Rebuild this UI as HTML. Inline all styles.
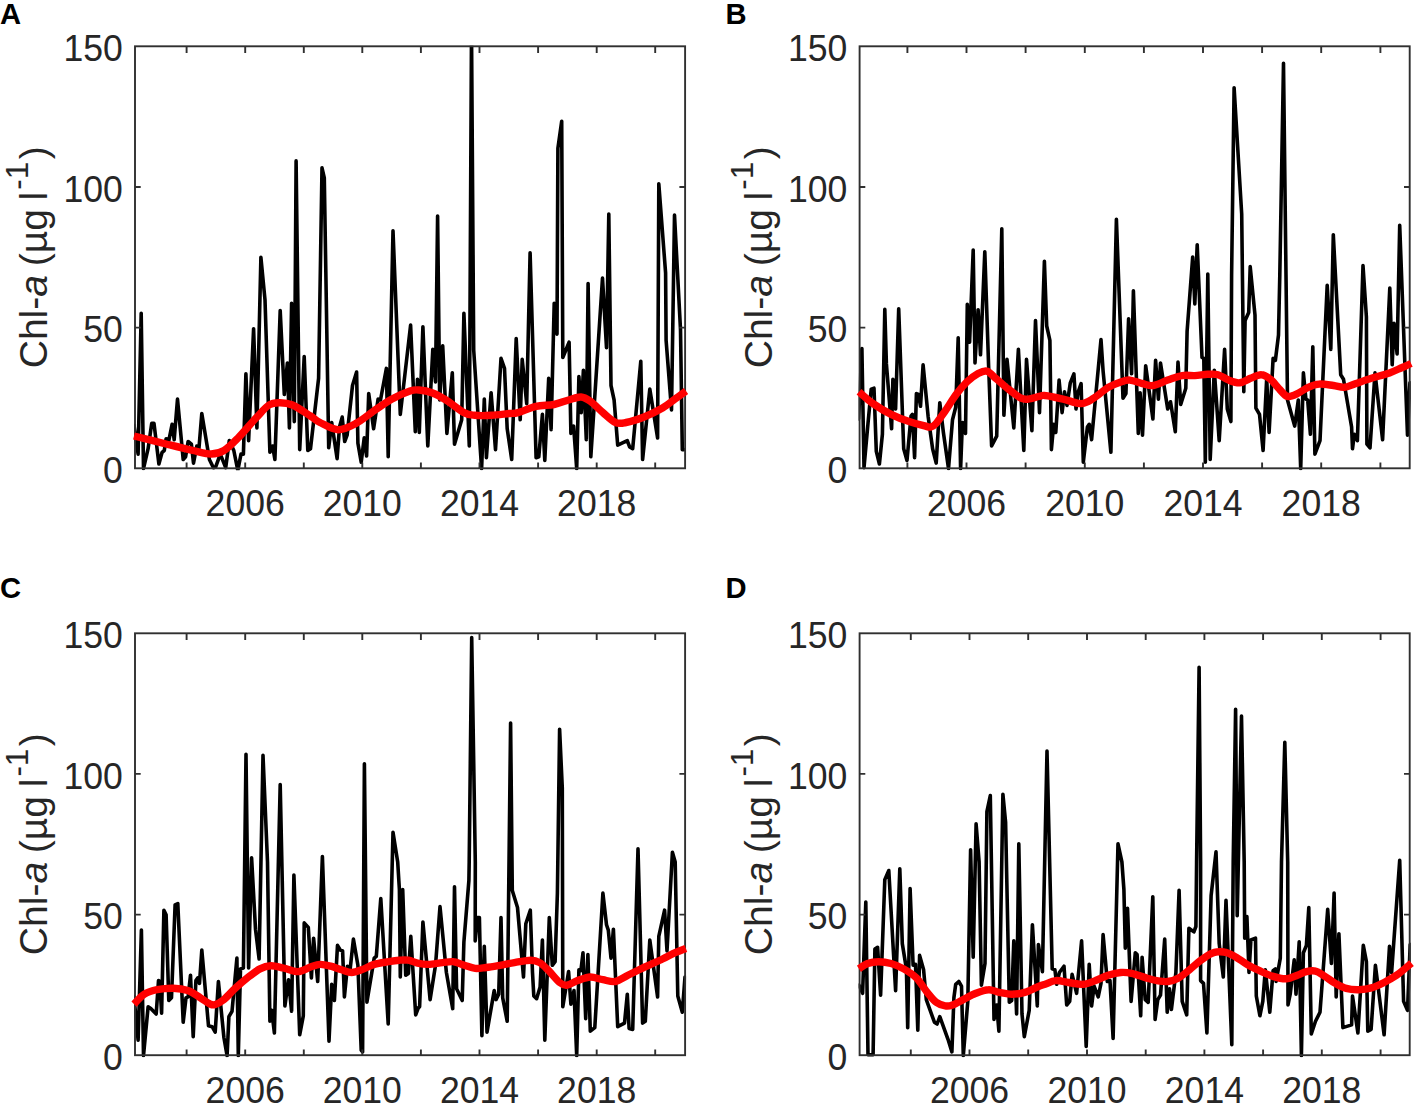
<!DOCTYPE html>
<html><head><meta charset="utf-8"><title>Chl-a time series</title>
<style>
html,body{margin:0;padding:0;background:#fff;}
body{width:1418px;height:1108px;overflow:hidden;font-family:"Liberation Sans",sans-serif;}
svg{display:block;}
text{font-family:"Liberation Sans",sans-serif;}
.tk{font-size:35.6px;fill:#262626;}
.yl{font-size:39.2px;fill:#262626;}
.pl{font-size:29.2px;font-weight:bold;fill:#000;}
</style></head><body>
<svg width="1418" height="1108" viewBox="0 0 1418 1108">
<rect x="0" y="0" width="1418" height="1108" fill="#ffffff"/>

<g id="panelA">
<clipPath id="clipA"><rect x="134.0" y="45.8" width="552.1" height="424.5"/></clipPath>
<g clip-path="url(#clipA)">
<polyline points="134.0,425.2 138.1,454.1 141.2,313.3 143.5,468.6 148.1,448.7 151.7,423.4 154.0,423.4 158.9,464.0 162.1,452.3 164.3,450.5 166.1,438.8 168.8,440.6 172.1,424.3 174.2,439.7 177.5,399.1 183.2,459.5 185.6,456.8 188.1,441.5 191.4,444.2 193.5,463.1 196.8,446.0 199.0,447.8 201.8,413.5 209.4,459.5 213.4,467.7 215.7,466.8 220.3,454.1 225.7,467.7 229.3,440.6 233.8,450.5 237.8,470.4 241.0,454.1 243.4,454.1 245.9,373.8 248.6,440.6 253.6,328.7 256.9,427.9 260.9,257.4 265.0,299.8 269.9,452.3 272.6,446.0 274.9,459.5 280.2,310.6 284.3,394.5 287.4,363.0 289.4,427.9 291.6,303.4 294.3,421.6 296.1,160.9 299.7,449.6 304.2,356.6 307.8,450.5 310.5,448.7 318.6,378.3 322.0,167.9 324.3,178.0 328.7,447.8 331.7,422.5 337.1,458.6 339.5,427.0 342.2,417.1 344.7,441.5 347.1,435.2 352.5,385.5 356.6,372.0 357.9,443.3 361.2,462.2 364.2,437.9 366.6,455.9 368.7,393.6 373.6,428.8 378.1,399.1 380.5,400.0 386.4,368.4 388.2,456.8 393.0,230.9 400.3,414.4 410.6,325.1 415.3,431.6 417.5,379.2 419.3,432.5 422.9,326.9 427.8,446.0 432.8,349.4 435.5,381.9 437.6,216.1 439.7,400.0 442.7,345.8 446.9,433.4 452.3,372.9 454.5,444.2 461.7,419.8 463.9,313.3 469.3,446.0 471.5,30.0 473.7,350.0 481.6,468.6 484.3,399.1 486.4,457.7 491.1,392.7 495.5,449.6 501.0,358.4 504.5,368.4 507.2,428.8 511.7,459.5 516.2,338.6 520.2,419.8 522.2,359.4 526.7,403.6 530.1,252.8 536.1,457.7 538.8,456.8 542.4,414.4 544.8,460.4 548.7,378.3 551.1,429.7 554.2,303.4 557.0,334.1 557.9,148.2 561.7,121.2 562.8,357.5 569.1,342.2 570.9,433.4 573.6,426.1 576.7,468.6 578.9,376.5 581.2,412.6 583.4,370.2 586.3,439.7 588.1,283.5 590.8,456.8 594.8,396.4 602.5,278.1 606.5,347.6 608.8,214.0 611.0,385.5 614.1,400.0 617.7,445.1 627.3,440.6 629.6,446.9 632.7,448.7 640.8,361.2 642.6,459.5 649.8,389.1 657.6,437.9 658.8,183.8 665.6,273.0 666.1,340.4 671.5,409.9 674.5,215.0 680.5,329.6 682.3,449.6 684.1,449.6" fill="none" stroke="#000" stroke-width="3.6" stroke-linejoin="round" stroke-linecap="round"/>
</g>
<rect x="135.0" y="46.3" width="550.1" height="422.0" fill="none" stroke="#303030" stroke-width="1.9"/>
<path d="M186.6 468.3v-5.7M186.6 46.3v6.7M245.2 468.3v-5.7M245.2 46.3v6.7M303.8 468.3v-5.7M303.8 46.3v6.7M362.3 468.3v-5.7M362.3 46.3v6.7M420.9 468.3v-5.7M420.9 46.3v6.7M479.5 468.3v-5.7M479.5 46.3v6.7M538.1 468.3v-5.7M538.1 46.3v6.7M596.7 468.3v-5.7M596.7 46.3v6.7M655.2 468.3v-5.7M655.2 46.3v6.7M135.0 327.6h5.7M685.1 327.6h-5.7M135.0 187.0h5.7M685.1 187.0h-5.7" stroke="#303030" stroke-width="1.9" fill="none"/>
<path d="M134.0 436.0C139.3 437.3 156.2 441.6 166.0 444.0C175.8 446.4 185.5 448.8 193.0 450.5C200.5 452.2 205.8 454.0 211.0 454.0C216.2 454.0 219.5 453.2 224.0 450.5C228.5 447.8 232.7 443.4 238.0 438.0C243.3 432.6 250.8 423.5 256.0 418.0C261.2 412.5 265.0 407.6 269.0 405.0C273.0 402.4 276.1 402.7 280.0 402.7C283.9 402.7 287.4 402.8 292.5 405.0C297.6 407.2 305.9 413.1 310.5 416.0C315.1 418.9 315.4 420.2 320.0 422.5C324.6 424.8 332.0 429.6 338.0 429.7C344.0 429.8 350.0 426.5 356.0 423.4C362.0 420.2 368.0 414.9 374.0 410.8C380.0 406.7 386.0 402.3 392.0 399.0C398.0 395.7 405.5 392.5 410.0 391.0C414.5 389.5 415.3 389.7 419.0 390.0C422.7 390.3 427.5 391.0 432.0 392.7C436.5 394.4 440.7 396.7 446.0 400.0C451.3 403.3 459.2 410.1 464.0 412.6C468.8 415.2 470.4 414.9 475.0 415.3C479.6 415.8 485.8 415.6 491.5 415.3C497.2 415.0 505.1 413.9 509.5 413.5C513.9 413.1 513.6 413.8 518.0 412.6C522.4 411.4 530.0 407.7 536.0 406.3C542.0 404.9 548.6 405.6 554.0 404.5C559.4 403.4 564.1 401.2 568.6 400.0C573.1 398.8 577.4 396.8 581.0 397.0C584.6 397.2 586.3 398.4 590.0 401.0C593.7 403.6 598.8 409.0 603.0 412.6C607.2 416.2 611.7 420.9 615.5 422.5C619.3 424.1 621.2 423.4 626.0 422.5C630.8 421.6 637.9 419.4 644.0 417.0C650.1 414.6 657.3 411.0 662.5 408.0C667.7 405.0 671.1 401.8 675.0 399.0C678.9 396.2 684.2 392.3 686.0 391.0" fill="none" stroke="#ff0000" stroke-width="7.4" stroke-linejoin="round" stroke-linecap="butt"/>
<text class="tk" transform="translate(122.8 483.1) scale(1 1.045)" text-anchor="end">0</text>
<text class="tk" transform="translate(122.8 342.4) scale(1 1.045)" text-anchor="end">50</text>
<text class="tk" transform="translate(122.8 201.8) scale(1 1.045)" text-anchor="end">100</text>
<text class="tk" transform="translate(122.8 61.1) scale(1 1.045)" text-anchor="end">150</text>
<text class="tk" transform="translate(245.2 515.9) scale(1 1.045)" text-anchor="middle">2006</text>
<text class="tk" transform="translate(362.3 515.9) scale(1 1.045)" text-anchor="middle">2010</text>
<text class="tk" transform="translate(479.5 515.9) scale(1 1.045)" text-anchor="middle">2014</text>
<text class="tk" transform="translate(596.7 515.9) scale(1 1.045)" text-anchor="middle">2018</text>
<text class="yl" transform="translate(47.3 257.3) scale(1 0.997) rotate(-90)" text-anchor="middle" word-spacing="-2.2">Chl-<tspan font-style="italic">a</tspan> (µg l<tspan font-size="31.4px" dx="2" dy="-19">-1</tspan><tspan dx="2.6" dy="19">)</tspan></text>
<text class="pl" x="0.0" y="24.2">A</text>
</g>
<g id="panelB">
<clipPath id="clipB"><rect x="858.6" y="45.8" width="552.1" height="424.5"/></clipPath>
<g clip-path="url(#clipB)">
<polyline points="858.6,418.9 861.9,348.5 864.0,467.7 868.0,423.4 871.2,389.1 874.0,388.2 876.3,451.4 879.4,464.0 882.4,434.3 884.8,309.4 886.4,363.9 891.6,428.8 892.9,379.2 895.6,409.0 898.7,308.8 903.7,448.7 907.0,460.4 911.0,416.2 912.4,414.4 914.6,457.7 916.4,393.6 918.5,394.5 920.5,406.3 923.1,364.8 928.1,416.2 932.6,448.7 936.2,463.1 939.8,402.7 943.4,432.5 948.5,468.6 952.5,419.8 955.7,407.2 958.2,337.7 960.6,468.6 962.4,422.5 965.5,433.4 967.3,304.3 969.6,342.2 973.2,250.0 975.0,363.0 978.1,309.7 980.5,354.8 984.8,251.7 988.6,365.7 991.6,446.0 996.7,436.1 1001.8,228.8 1003.9,415.3 1007.0,359.4 1013.8,427.9 1018.4,349.4 1023.8,450.5 1026.5,359.4 1031.9,430.6 1035.5,320.5 1039.5,412.6 1044.4,261.3 1046.7,326.0 1049.9,340.4 1051.4,449.6 1053.7,424.3 1055.8,432.5 1059.1,380.1 1062.1,412.6 1064.5,391.8 1067.0,405.4 1070.3,382.8 1073.9,373.8 1076.0,409.0 1078.0,392.7 1081.1,383.7 1083.3,462.2 1087.4,427.0 1089.2,424.3 1091.6,439.7 1101.0,339.5 1103.1,371.1 1110.9,452.3 1116.4,219.3 1123.0,398.2 1125.9,393.6 1128.6,318.7 1131.6,373.8 1133.4,290.8 1138.3,433.4 1140.1,392.7 1142.5,435.2 1145.7,365.7 1152.9,418.9 1155.6,360.3 1158.4,399.1 1160.5,363.0 1167.7,409.0 1170.5,401.8 1175.3,431.6 1178.0,362.1 1180.7,404.5 1185.8,388.2 1187.1,331.4 1192.7,257.0 1194.8,304.0 1197.2,244.7 1202.0,357.5 1203.8,358.4 1205.3,462.2 1207.8,274.0 1210.2,459.5 1214.3,370.2 1219.2,440.6 1224.6,349.4 1227.3,409.0 1230.9,421.6 1231.6,275.0 1234.1,87.7 1241.7,214.0 1243.8,391.8 1245.1,320.5 1248.7,312.4 1250.2,266.6 1255.0,315.1 1255.9,408.1 1259.5,414.4 1263.1,450.5 1266.7,378.3 1269.1,432.5 1273.1,358.4 1275.4,360.3 1278.5,335.0 1279.8,275.0 1283.5,63.3 1286.0,275.0 1287.5,400.0 1294.7,426.1 1298.3,400.0 1300.7,468.6 1303.4,372.9 1305.9,399.1 1307.7,400.0 1310.4,434.3 1312.8,346.7 1314.9,454.1 1320.0,440.6 1327.2,285.3 1330.8,349.4 1333.3,234.7 1340.7,374.7 1343.5,379.2 1351.6,427.0 1352.5,448.7 1354.3,434.3 1357.4,440.6 1363.0,265.5 1366.4,316.9 1366.9,444.2 1370.0,447.8 1375.0,372.9 1382.6,439.7 1389.8,288.1 1392.2,364.8 1394.0,323.2 1397.1,353.9 1399.7,225.2 1407.5,435.2 1409.9,382.8" fill="none" stroke="#000" stroke-width="3.6" stroke-linejoin="round" stroke-linecap="round"/>
</g>
<rect x="859.6" y="46.3" width="550.1" height="422.0" fill="none" stroke="#303030" stroke-width="1.9"/>
<path d="M907.4 468.3v-5.7M907.4 46.3v6.7M966.5 468.3v-5.7M966.5 46.3v6.7M1025.6 468.3v-5.7M1025.6 46.3v6.7M1084.8 468.3v-5.7M1084.8 46.3v6.7M1143.9 468.3v-5.7M1143.9 46.3v6.7M1203.0 468.3v-5.7M1203.0 46.3v6.7M1262.1 468.3v-5.7M1262.1 46.3v6.7M1321.2 468.3v-5.7M1321.2 46.3v6.7M1380.4 468.3v-5.7M1380.4 46.3v6.7M859.6 327.6h5.7M1409.7 327.6h-5.7M859.6 187.0h5.7M1409.7 187.0h-5.7" stroke="#303030" stroke-width="1.9" fill="none"/>
<path d="M859.0 391.8C861.3 393.8 867.7 399.8 873.1 403.6C878.4 407.3 885.1 411.4 891.1 414.4C897.1 417.4 903.7 419.8 909.2 421.6C914.6 423.5 920.0 424.7 923.6 425.6C927.2 426.5 928.7 427.4 930.8 427.0C932.9 426.7 933.8 426.1 936.2 423.4C938.6 420.7 941.9 415.6 945.3 410.8C948.6 406.0 952.5 399.4 956.1 394.5C959.7 389.7 963.3 385.4 966.9 381.9C970.5 378.5 974.4 375.6 977.7 373.8C981.1 372.0 983.8 370.3 986.8 371.1C989.8 371.8 992.2 375.3 995.8 378.3C999.4 381.3 1004.2 385.8 1008.4 389.1C1012.6 392.4 1017.8 396.5 1021.1 398.2C1024.4 399.8 1025.3 399.4 1028.3 399.1C1031.3 398.8 1036.3 397.0 1039.1 396.4C1041.9 395.8 1041.0 395.0 1045.0 395.5C1049.0 395.9 1057.0 397.7 1063.1 399.1C1069.1 400.4 1076.0 403.7 1081.1 403.6C1086.2 403.4 1089.2 400.9 1093.7 398.2C1098.2 395.5 1103.7 390.0 1108.2 387.3C1112.7 384.6 1117.2 383.1 1120.8 381.9C1124.4 380.7 1126.2 379.8 1129.8 380.1C1133.4 380.4 1138.6 382.8 1142.5 383.7C1146.4 384.6 1149.1 386.1 1153.3 385.5C1157.5 384.9 1162.9 381.8 1167.7 380.1C1172.6 378.5 1177.7 376.3 1182.2 375.6C1186.7 374.8 1190.6 375.8 1194.8 375.6C1199.0 375.4 1203.6 374.5 1207.5 374.3C1211.3 374.2 1214.4 373.7 1218.0 374.7C1221.6 375.7 1225.2 378.8 1228.8 380.1C1232.4 381.5 1236.1 383.1 1239.7 382.8C1243.3 382.5 1246.9 379.7 1250.5 378.3C1254.1 376.9 1258.0 374.5 1261.3 374.7C1264.6 374.8 1267.3 376.8 1270.3 379.2C1273.4 381.6 1276.5 386.3 1279.4 389.1C1282.2 392.0 1284.5 395.6 1287.5 396.4C1290.5 397.1 1294.0 395.2 1297.4 393.6C1300.9 392.1 1304.6 388.9 1308.3 387.3C1311.9 385.7 1314.9 384.4 1319.1 384.1C1323.3 383.8 1329.3 385.0 1333.5 385.5C1337.7 386.1 1340.7 387.6 1344.4 387.3C1348.0 387.0 1350.7 385.2 1355.2 383.7C1359.7 382.2 1365.7 380.1 1371.4 378.3C1377.1 376.5 1384.4 374.7 1389.5 372.9C1394.6 371.1 1398.5 369.0 1402.1 367.5C1405.7 365.9 1409.6 364.2 1411.1 363.5" fill="none" stroke="#ff0000" stroke-width="7.4" stroke-linejoin="round" stroke-linecap="butt"/>
<text class="tk" transform="translate(847.4 483.1) scale(1 1.045)" text-anchor="end">0</text>
<text class="tk" transform="translate(847.4 342.4) scale(1 1.045)" text-anchor="end">50</text>
<text class="tk" transform="translate(847.4 201.8) scale(1 1.045)" text-anchor="end">100</text>
<text class="tk" transform="translate(847.4 61.1) scale(1 1.045)" text-anchor="end">150</text>
<text class="tk" transform="translate(966.5 515.9) scale(1 1.045)" text-anchor="middle">2006</text>
<text class="tk" transform="translate(1084.8 515.9) scale(1 1.045)" text-anchor="middle">2010</text>
<text class="tk" transform="translate(1203.0 515.9) scale(1 1.045)" text-anchor="middle">2014</text>
<text class="tk" transform="translate(1321.2 515.9) scale(1 1.045)" text-anchor="middle">2018</text>
<text class="yl" transform="translate(771.9 257.3) scale(1 0.997) rotate(-90)" text-anchor="middle" word-spacing="-2.2">Chl-<tspan font-style="italic">a</tspan> (µg l<tspan font-size="31.4px" dx="2" dy="-19">-1</tspan><tspan dx="2.6" dy="19">)</tspan></text>
<text class="pl" x="725.4" y="24.2">B</text>
</g>
<g id="panelC">
<clipPath id="clipC"><rect x="134.0" y="632.8" width="552.1" height="424.4"/></clipPath>
<g clip-path="url(#clipC)">
<polyline points="134.0,996.9 138.1,1040.2 141.4,930.1 143.5,1055.6 148.1,1006.8 150.8,1008.6 156.2,1014.0 158.5,980.6 159.8,981.5 161.6,1013.1 163.9,910.2 166.1,914.8 168.8,1000.5 171.5,997.8 175.1,904.8 177.8,903.6 183.2,1022.2 186.0,997.8 188.1,996.9 190.5,975.2 193.2,1036.6 195.9,980.6 197.7,977.9 199.5,983.4 201.8,950.0 208.5,1025.8 212.1,1026.7 215.2,1032.1 218.4,981.5 223.9,1037.5 227.1,1055.6 228.9,1016.7 232.0,1011.3 236.9,958.1 238.3,1055.6 240.5,968.9 243.4,968.0 246.0,754.3 248.6,968.0 251.6,857.8 255.5,929.2 259.1,959.0 263.0,755.3 267.5,862.0 269.9,1021.3 271.7,1010.4 274.4,1033.0 280.2,784.6 284.9,1005.9 288.5,979.7 291.6,1011.3 293.9,875.1 299.7,1034.8 303.3,1015.8 304.2,922.9 308.3,927.4 311.4,977.9 313.6,938.2 317.7,981.5 322.4,856.5 329.0,1041.1 331.7,984.3 334.4,1000.5 337.5,945.4 340.2,950.0 342.6,950.9 344.4,996.9 347.4,966.2 349.8,972.5 353.4,939.1 357.9,965.3 361.2,1050.1 362.6,1051.9 364.4,763.8 366.9,1002.3 374.2,958.1 376.3,956.3 380.8,898.5 388.2,1024.0 393.0,832.3 397.7,862.0 399.4,889.5 400.3,977.0 402.7,889.5 405.7,975.2 408.4,973.4 410.8,936.4 415.7,1014.9 418.4,1007.7 419.6,1006.8 422.9,922.0 430.1,999.6 435.5,965.3 440.0,906.6 446.4,972.5 452.7,1008.6 454.5,886.8 456.6,988.8 462.2,1000.5 463.9,941.8 468.9,880.5 469.2,862.0 471.7,637.6 475.3,862.0 475.2,940.9 477.4,917.5 479.4,917.5 481.9,1035.7 484.3,946.4 487.0,1032.1 494.2,990.6 496.0,999.6 498.7,994.2 501.0,917.5 502.7,997.8 507.2,1021.3 510.6,723.1 512.3,890.4 517.5,907.5 523.5,977.0 525.8,923.8 530.3,910.2 532.5,972.5 533.8,996.0 536.6,998.7 540.1,987.0 542.4,940.0 544.8,1040.2 549.3,917.5 552.3,965.3 555.1,961.7 557.4,893.1 559.6,729.2 562.3,788.2 562.8,1006.8 568.6,971.6 570.9,1004.1 574.0,990.6 576.7,1055.6 578.9,969.8 580.9,970.7 583.0,952.7 585.7,1018.6 587.9,954.5 590.3,1031.2 594.8,1027.6 602.9,893.1 606.5,924.7 608.3,930.1 611.0,958.1 613.4,929.2 617.7,1026.7 624.5,1023.1 627.3,994.2 629.1,1028.5 632.7,1029.4 638.0,848.7 642.6,1023.1 645.3,1021.3 649.8,940.0 657.6,996.9 658.8,936.4 664.6,910.2 667.0,950.9 672.4,852.3 675.2,862.0 677.8,996.0 682.3,1012.2 685.0,977.0" fill="none" stroke="#000" stroke-width="3.6" stroke-linejoin="round" stroke-linecap="round"/>
</g>
<rect x="135.0" y="633.3" width="550.1" height="421.9" fill="none" stroke="#303030" stroke-width="1.9"/>
<path d="M186.6 1055.2v-5.7M186.6 633.3v6.7M245.2 1055.2v-5.7M245.2 633.3v6.7M303.8 1055.2v-5.7M303.8 633.3v6.7M362.3 1055.2v-5.7M362.3 633.3v6.7M420.9 1055.2v-5.7M420.9 633.3v6.7M479.5 1055.2v-5.7M479.5 633.3v6.7M538.1 1055.2v-5.7M538.1 633.3v6.7M596.7 1055.2v-5.7M596.7 633.3v6.7M655.2 1055.2v-5.7M655.2 633.3v6.7M135.0 914.6h5.7M685.1 914.6h-5.7M135.0 773.9h5.7M685.1 773.9h-5.7" stroke="#303030" stroke-width="1.9" fill="none"/>
<path d="M134.0 1004.1C135.7 1002.5 140.6 996.6 144.4 994.2C148.3 991.8 152.3 990.7 157.1 989.7C161.9 988.7 168.2 988.1 173.3 988.2C178.4 988.4 183.2 989.0 187.8 990.6C192.3 992.2 196.8 995.6 200.4 997.8C204.0 1000.0 207.0 1002.4 209.4 1003.6C211.8 1004.7 212.4 1005.3 214.8 1004.7C217.2 1004.0 220.6 1002.2 223.9 999.6C227.2 997.0 230.8 992.4 234.7 988.8C238.6 985.2 243.1 981.2 247.3 977.9C251.5 974.6 256.1 970.9 260.0 968.9C263.9 966.9 266.9 966.0 270.8 965.8C274.7 965.7 278.9 967.0 283.4 968.0C287.9 969.0 293.4 971.8 297.9 971.6C302.4 971.5 306.8 968.3 310.5 967.1C314.2 965.9 316.6 964.6 320.0 964.4C323.4 964.3 327.2 965.3 330.8 966.2C334.4 967.1 338.2 968.8 341.7 969.8C345.1 970.9 348.3 972.5 351.6 972.5C354.9 972.5 357.8 971.2 361.5 969.8C365.3 968.5 369.6 965.8 374.2 964.4C378.7 963.0 384.4 962.4 388.6 961.7C392.8 961.0 396.1 960.5 399.4 960.2C402.7 960.0 405.4 959.8 408.4 960.2C411.5 960.7 414.2 962.4 417.5 963.1C420.8 963.8 424.1 964.5 428.3 964.4C432.5 964.3 438.5 963.0 442.7 962.6C447.0 962.1 450.0 961.2 453.6 961.7C457.2 962.1 460.8 964.2 464.4 965.3C468.0 966.4 471.6 968.0 475.2 968.4C478.8 968.7 481.9 968.0 486.1 967.5C490.2 967.0 495.3 966.1 500.0 965.3C504.7 964.5 509.3 963.4 514.4 962.6C519.6 961.8 526.5 960.2 530.7 960.2C534.9 960.2 536.7 960.9 539.7 962.6C542.7 964.3 545.4 967.4 548.7 970.7C552.0 974.0 556.6 980.0 559.6 982.5C562.6 984.9 563.8 985.5 566.8 985.2C569.8 984.9 573.7 982.0 577.6 980.6C581.5 979.3 586.0 977.2 590.3 977.0C594.5 976.9 598.7 979.0 602.9 979.7C607.1 980.5 611.6 982.2 615.5 981.5C619.4 980.9 621.5 978.5 626.4 976.1C631.2 973.7 638.4 970.0 644.4 967.1C650.4 964.3 657.3 961.4 662.5 959.0C667.6 956.6 671.2 954.4 675.1 952.7C679.0 950.9 684.1 949.2 685.9 948.5" fill="none" stroke="#ff0000" stroke-width="7.4" stroke-linejoin="round" stroke-linecap="butt"/>
<text class="tk" transform="translate(122.8 1070.0) scale(1 1.045)" text-anchor="end">0</text>
<text class="tk" transform="translate(122.8 929.4) scale(1 1.045)" text-anchor="end">50</text>
<text class="tk" transform="translate(122.8 788.7) scale(1 1.045)" text-anchor="end">100</text>
<text class="tk" transform="translate(122.8 648.1) scale(1 1.045)" text-anchor="end">150</text>
<text class="tk" transform="translate(245.2 1102.8) scale(1 1.045)" text-anchor="middle">2006</text>
<text class="tk" transform="translate(362.3 1102.8) scale(1 1.045)" text-anchor="middle">2010</text>
<text class="tk" transform="translate(479.5 1102.8) scale(1 1.045)" text-anchor="middle">2014</text>
<text class="tk" transform="translate(596.7 1102.8) scale(1 1.045)" text-anchor="middle">2018</text>
<text class="yl" transform="translate(47.3 844.2) scale(1 0.997) rotate(-90)" text-anchor="middle" word-spacing="-2.2">Chl-<tspan font-style="italic">a</tspan> (µg l<tspan font-size="31.4px" dx="2" dy="-19">-1</tspan><tspan dx="2.6" dy="19">)</tspan></text>
<text class="pl" x="0.0" y="597.9">C</text>
</g>
<g id="panelD">
<clipPath id="clipD"><rect x="858.6" y="632.8" width="552.1" height="424.4"/></clipPath>
<g clip-path="url(#clipD)">
<polyline points="859.0,985.2 862.6,993.3 865.8,902.1 868.0,1054.7 873.1,1054.7 874.9,949.1 877.6,947.3 880.6,995.1 884.8,879.6 888.8,870.5 895.6,990.6 899.8,868.7 902.3,943.6 906.4,968.9 907.7,1027.6 910.1,888.6 913.1,965.3 915.5,964.4 917.8,1030.3 919.6,955.4 923.6,969.8 926.3,999.6 934.4,1022.2 937.1,1024.0 939.8,1016.7 948.0,1039.3 951.9,1051.9 953.9,997.8 955.7,984.3 958.8,981.5 961.5,986.1 963.3,1055.6 967.8,1001.4 970.6,849.7 973.2,957.2 976.1,823.9 979.1,862.0 981.4,985.2 985.0,963.5 986.9,811.6 990.3,795.6 994.0,1019.5 996.7,1005.0 998.9,1031.2 1002.9,794.2 1005.6,822.2 1009.3,1002.3 1011.7,1000.5 1013.8,940.9 1016.6,1014.0 1018.8,843.8 1022.0,1014.0 1024.3,1036.6 1029.2,1010.4 1032.4,924.7 1037.3,1005.9 1038.4,944.5 1042.4,971.6 1047.0,751.1 1052.2,968.9 1054.9,969.8 1056.7,984.3 1059.4,972.5 1064.0,966.2 1066.7,1005.0 1069.7,1001.4 1072.1,974.3 1076.6,993.3 1081.6,940.9 1086.2,1046.5 1089.2,964.4 1091.6,1005.9 1094.1,986.1 1098.2,996.9 1101.0,983.4 1103.1,934.6 1107.3,981.5 1110.0,980.6 1113.1,1038.4 1118.0,843.8 1121.9,862.0 1123.9,889.5 1125.3,948.2 1127.5,908.4 1131.1,1001.4 1135.3,952.7 1137.1,954.5 1140.7,1015.8 1142.1,957.2 1145.2,999.6 1148.2,1002.3 1152.8,896.7 1155.1,1019.5 1157.8,999.6 1160.5,995.1 1164.7,939.1 1167.2,1012.2 1169.5,988.8 1171.4,1009.5 1175.9,972.5 1179.1,890.4 1182.2,1001.4 1186.7,1014.9 1188.9,928.3 1193.9,931.9 1195.9,926.5 1196.6,862.0 1199.1,667.3 1200.6,862.0 1200.6,980.6 1203.5,983.4 1206.9,1033.0 1211.1,895.8 1216.0,851.9 1219.2,943.6 1223.3,977.0 1226.0,900.3 1231.8,1044.7 1233.2,862.0 1235.6,709.3 1237.2,915.7 1241.5,716.1 1244.2,862.0 1244.7,938.2 1246.9,916.6 1249.0,972.5 1250.9,940.0 1255.5,938.2 1256.3,996.0 1259.9,1015.8 1262.8,1001.4 1265.3,969.8 1269.8,1012.2 1273.1,970.7 1275.4,968.9 1276.1,981.5 1280.3,958.1 1281.5,862.0 1284.8,742.2 1287.7,862.0 1288.0,1005.0 1290.2,994.2 1294.2,959.9 1296.0,994.2 1299.2,941.8 1301.4,1055.6 1303.4,952.7 1306.4,945.4 1308.8,907.5 1311.3,1033.9 1315.5,1021.3 1320.0,1012.2 1327.7,909.3 1331.4,963.5 1334.1,893.1 1336.2,996.9 1338.9,933.7 1342.9,1027.6 1351.6,1024.9 1352.5,996.0 1357.9,1033.0 1363.3,945.4 1366.4,961.7 1367.8,1031.2 1371.1,1029.4 1375.4,965.3 1384.1,1034.8 1389.5,946.4 1391.6,972.5 1399.7,860.3 1403.6,1001.4 1407.5,1010.4 1410.2,944.5" fill="none" stroke="#000" stroke-width="3.6" stroke-linejoin="round" stroke-linecap="round"/>
</g>
<rect x="859.6" y="633.3" width="550.1" height="421.9" fill="none" stroke="#303030" stroke-width="1.9"/>
<path d="M910.8 1055.2v-5.7M910.8 633.3v6.7M969.5 1055.2v-5.7M969.5 633.3v6.7M1028.2 1055.2v-5.7M1028.2 633.3v6.7M1087.0 1055.2v-5.7M1087.0 633.3v6.7M1145.7 1055.2v-5.7M1145.7 633.3v6.7M1204.4 1055.2v-5.7M1204.4 633.3v6.7M1263.1 1055.2v-5.7M1263.1 633.3v6.7M1321.8 1055.2v-5.7M1321.8 633.3v6.7M1380.6 1055.2v-5.7M1380.6 633.3v6.7M859.6 914.6h5.7M1409.7 914.6h-5.7M859.6 773.9h5.7M1409.7 773.9h-5.7" stroke="#303030" stroke-width="1.9" fill="none"/>
<path d="M859.0 968.9C860.4 968.0 864.4 964.7 867.6 963.5C870.9 962.3 874.6 961.7 878.5 961.7C882.4 961.7 886.9 962.3 891.1 963.5C895.3 964.7 899.5 966.5 903.7 968.9C907.9 971.3 912.5 974.0 916.4 977.9C920.3 981.8 923.9 988.3 927.2 992.4C930.5 996.4 933.2 1000.1 936.2 1002.3C939.2 1004.6 942.5 1005.5 945.3 1005.9C948.0 1006.4 949.5 1006.1 952.5 1005.0C955.5 1004.0 959.4 1001.6 963.3 999.6C967.2 997.6 971.7 994.9 975.9 993.3C980.2 991.6 984.7 989.8 988.6 989.7C992.5 989.5 995.5 991.6 999.4 992.4C1003.3 993.1 1007.8 994.2 1012.0 994.2C1016.3 994.2 1020.5 993.6 1024.7 992.4C1028.9 991.2 1033.9 988.3 1037.3 987.0C1040.7 985.6 1041.9 985.3 1045.0 984.3C1048.1 983.2 1051.9 980.9 1055.8 980.6C1059.7 980.3 1064.0 981.8 1068.5 982.5C1073.0 983.1 1078.4 984.6 1082.9 984.3C1087.4 984.0 1091.3 982.2 1095.5 980.6C1099.8 979.1 1104.0 976.6 1108.2 975.2C1112.4 973.9 1116.9 972.8 1120.8 972.5C1124.7 972.2 1127.4 972.5 1131.6 973.4C1135.9 974.3 1141.9 976.7 1146.1 977.9C1150.3 979.1 1153.3 980.0 1156.9 980.6C1160.5 981.2 1164.1 982.0 1167.7 981.5C1171.4 981.1 1175.0 979.9 1178.6 977.9C1182.2 976.0 1185.8 972.7 1189.4 969.8C1193.0 967.0 1196.6 963.5 1200.2 960.8C1203.8 958.1 1208.1 955.1 1211.1 953.6C1214.0 952.1 1215.3 951.9 1218.0 951.8C1220.7 951.6 1224.0 951.8 1227.0 952.7C1230.0 953.6 1232.7 955.2 1236.1 957.2C1239.4 959.1 1243.0 962.1 1246.9 964.4C1250.8 966.7 1255.3 968.8 1259.5 970.7C1263.7 972.7 1267.6 974.8 1272.2 976.1C1276.7 977.5 1282.4 979.0 1286.6 978.8C1290.8 978.7 1294.1 976.4 1297.4 975.2C1300.7 974.0 1303.4 972.3 1306.4 971.6C1309.5 970.9 1312.5 970.3 1315.5 971.1C1318.5 971.8 1321.2 974.1 1324.5 976.1C1327.8 978.2 1331.7 981.3 1335.3 983.4C1338.9 985.4 1342.2 987.4 1346.2 988.4C1350.1 989.5 1354.6 989.8 1358.8 989.7C1363.0 989.6 1367.2 989.1 1371.4 987.9C1375.6 986.7 1379.9 984.6 1384.1 982.5C1388.3 980.3 1393.1 977.6 1396.7 975.2C1400.3 972.8 1403.3 970.0 1405.7 968.0C1408.2 966.0 1410.5 963.9 1411.5 963.1" fill="none" stroke="#ff0000" stroke-width="7.4" stroke-linejoin="round" stroke-linecap="butt"/>
<text class="tk" transform="translate(847.4 1070.0) scale(1 1.045)" text-anchor="end">0</text>
<text class="tk" transform="translate(847.4 929.4) scale(1 1.045)" text-anchor="end">50</text>
<text class="tk" transform="translate(847.4 788.7) scale(1 1.045)" text-anchor="end">100</text>
<text class="tk" transform="translate(847.4 648.1) scale(1 1.045)" text-anchor="end">150</text>
<text class="tk" transform="translate(969.5 1102.8) scale(1 1.045)" text-anchor="middle">2006</text>
<text class="tk" transform="translate(1087.0 1102.8) scale(1 1.045)" text-anchor="middle">2010</text>
<text class="tk" transform="translate(1204.4 1102.8) scale(1 1.045)" text-anchor="middle">2014</text>
<text class="tk" transform="translate(1321.8 1102.8) scale(1 1.045)" text-anchor="middle">2018</text>
<text class="yl" transform="translate(771.9 844.2) scale(1 0.997) rotate(-90)" text-anchor="middle" word-spacing="-2.2">Chl-<tspan font-style="italic">a</tspan> (µg l<tspan font-size="31.4px" dx="2" dy="-19">-1</tspan><tspan dx="2.6" dy="19">)</tspan></text>
<text class="pl" x="725.4" y="597.9">D</text>
</g>
</svg></body></html>
